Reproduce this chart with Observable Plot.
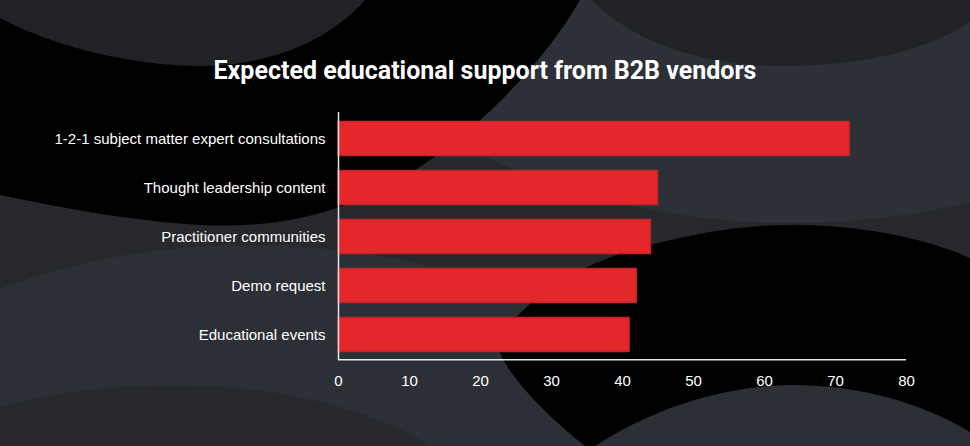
<!DOCTYPE html>
<html>
<head>
<meta charset="utf-8">
<script src="https://cdn.jsdelivr.net/npm/d3@7"></script>
<script src="https://cdn.jsdelivr.net/npm/@observablehq/plot@0.6"></script>
<style>
  html, body { margin: 0; padding: 0; background: #27282c; }
  #wrap { position: relative; width: 970px; height: 446px; overflow: hidden; }
  #bg { position: absolute; left: 0; top: 0; }
  #title { position: absolute; left: 0; top: 0; width: 970px; text-align: center;
    font-family: Roboto, "Noto Sans", sans-serif; font-weight: 700; font-size: 25px;
    color: #ffffff; line-height: 1; padding-top: 58px; }
  #chart { position: absolute; left: 0; top: 0; }
</style>
</head>
<body>
<div id="wrap">
  <svg id="bg" width="970" height="446" viewBox="0 0 970 446">
    <rect width="970" height="446" fill="#27282c"/>
    <ellipse cx="793" cy="-150" rx="540" ry="373" fill="#2e3038"/>
    <ellipse cx="250" cy="480" rx="430" ry="235" fill="#2d2f36"/>
    <ellipse cx="170" cy="530" rx="320" ry="145" fill="#28292e"/>
    <path d="M0,0 L580,0 C540,70 460,150 380,190 C320,220 260,228 200,225 C120,220 50,205 0,195 Z" fill="#000"/>
    <path d="M0,0 L0,18 C60,50 140,66 200,66 C270,66 330,40 365,0 Z" fill="#212226"/>
    <path d="M592,0 C630,40 700,66 780,66 C870,66 930,48 970,22 L970,0 Z" fill="#212226"/>
    <path d="M585,446 C540,410 505,372 497,345 C520,300 580,262 650,245 C700,232 750,224 800,225 C870,226 930,240 970,258 L970,446 Z" fill="#000"/>
    <path d="M595,446 C650,410 720,386 790,385 C870,385 930,408 970,432 L970,446 Z" fill="#2d2f36"/>
  </svg>
  <div id="chart"></div>
  <div id="title">Expected educational support from B2B vendors</div>
</div>
<script>
const categories = [
  "1-2-1 subject matter expert consultations",
  "Thought leadership content",
  "Practitioner communities",
  "Demo request",
  "Educational events"
];
const values = [72, 45, 44, 42, 41];
const xTicks = [0, 10, 20, 30, 40, 50, 60, 70, 80];

const data = categories.map((c, i) => ({category: c, value: values[i]}));

const W = 970, H = 446, mTop = 112, mBottom = 86, mLeft = 338, mRight = 64;
const step = (H - mTop - mBottom) / categories.length;

const chart = Plot.plot({
  width: W,
  height: H,
  marginTop: mTop,
  marginBottom: mBottom,
  marginLeft: mLeft,
  marginRight: mRight,
  style: {background: "transparent", color: "#ffffff", overflow: "visible"},
  x: {domain: [0, 80], ticks: xTicks},
  y: {domain: categories, padding: 0},
  marks: [
    Plot.barX(data, {
      x: "value", y: "category",
      fill: "#e4272a", stroke: "#c42429", strokeWidth: 1.5,
      insetTop: 7.5, insetBottom: 7.5
    }),
    Plot.ruleX([0], {stroke: "#e6e6e6", strokeWidth: 1.5}),
    Plot.ruleY([categories[categories.length - 1]], {stroke: "#e6e6e6", strokeWidth: 1.5, dy: step / 2}),
    Plot.axisX({ticks: xTicks, tickSize: 0, tickPadding: 15, fontSize: 15, fill: "#ffffff",
      fontFamily: "'Liberation Sans', Arial, sans-serif", label: null}),
    Plot.axisY({tickSize: 0, tickPadding: 13, fontSize: 15, fill: "#ffffff",
      fontFamily: "'Liberation Sans', Arial, sans-serif", label: null})
  ]
});
document.getElementById("chart").appendChild(chart);
</script>
</body>
</html>
